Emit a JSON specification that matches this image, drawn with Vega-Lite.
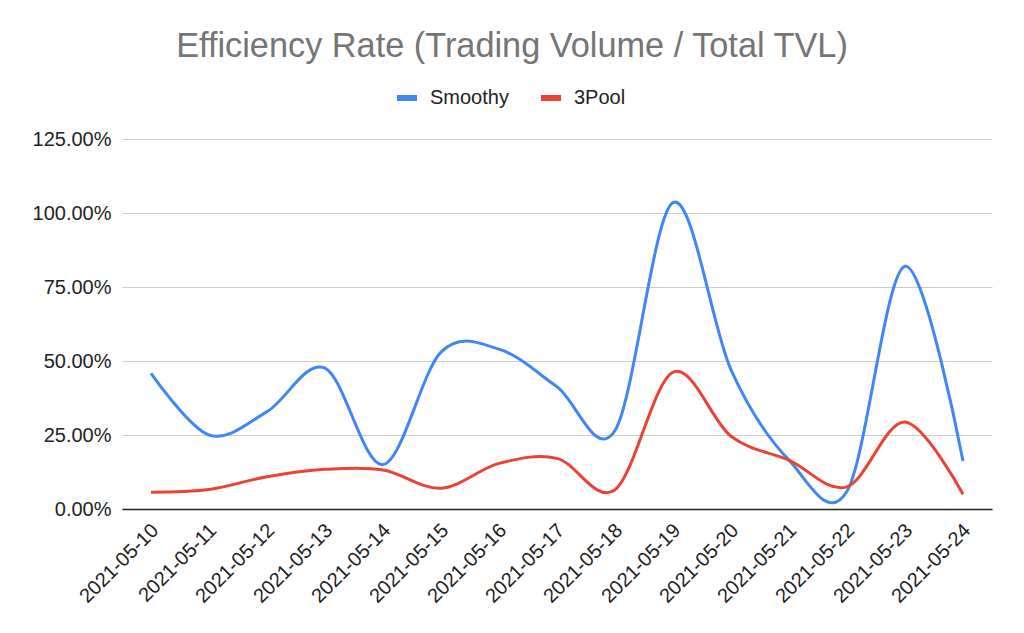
{
  "$schema": "https://vega.github.io/schema/vega-lite/v6.json",
  "width": 870,
  "height": 370,
  "autosize": {"type": "none"},
  "padding": {"left": 122, "top": 139, "right": 32, "bottom": 124},
  "background": "white",
  "title": {
    "text": "Efficiency Rate (Trading Volume / Total TVL)",
    "fontSize": 34.3,
    "font": "Liberation Sans",
    "fontWeight": "normal",
    "color": "#757575",
    "anchor": "middle",
    "frame": "group",
    "baseline": "alphabetic",
    "offset": -6,
    "dx": -45
  },
  "data": {
    "values": [
      {"date": "2021-05-10", "series": "Smoothy", "value": 0.458},
      {"date": "2021-05-11", "series": "Smoothy", "value": 0.25},
      {"date": "2021-05-12", "series": "Smoothy", "value": 0.329},
      {"date": "2021-05-13", "series": "Smoothy", "value": 0.476},
      {"date": "2021-05-14", "series": "Smoothy", "value": 0.15},
      {"date": "2021-05-15", "series": "Smoothy", "value": 0.53},
      {"date": "2021-05-16", "series": "Smoothy", "value": 0.54},
      {"date": "2021-05-17", "series": "Smoothy", "value": 0.413},
      {"date": "2021-05-18", "series": "Smoothy", "value": 0.265},
      {"date": "2021-05-19", "series": "Smoothy", "value": 1.035},
      {"date": "2021-05-20", "series": "Smoothy", "value": 0.47},
      {"date": "2021-05-21", "series": "Smoothy", "value": 0.165},
      {"date": "2021-05-22", "series": "Smoothy", "value": 0.06},
      {"date": "2021-05-23", "series": "Smoothy", "value": 0.82},
      {"date": "2021-05-24", "series": "Smoothy", "value": 0.162},
      {"date": "2021-05-10", "series": "3Pool", "value": 0.057},
      {"date": "2021-05-11", "series": "3Pool", "value": 0.066},
      {"date": "2021-05-12", "series": "3Pool", "value": 0.109},
      {"date": "2021-05-13", "series": "3Pool", "value": 0.134},
      {"date": "2021-05-14", "series": "3Pool", "value": 0.132},
      {"date": "2021-05-15", "series": "3Pool", "value": 0.07},
      {"date": "2021-05-16", "series": "3Pool", "value": 0.154},
      {"date": "2021-05-17", "series": "3Pool", "value": 0.171},
      {"date": "2021-05-18", "series": "3Pool", "value": 0.065},
      {"date": "2021-05-19", "series": "3Pool", "value": 0.462},
      {"date": "2021-05-20", "series": "3Pool", "value": 0.246},
      {"date": "2021-05-21", "series": "3Pool", "value": 0.165},
      {"date": "2021-05-22", "series": "3Pool", "value": 0.075},
      {"date": "2021-05-23", "series": "3Pool", "value": 0.294},
      {"date": "2021-05-24", "series": "3Pool", "value": 0.05}
    ]
  },
  "mark": {"type": "line", "interpolate": "cardinal", "strokeWidth": 3},
  "encoding": {
    "x": {
      "field": "date",
      "type": "ordinal",
      "scale": {"type": "point", "padding": 0.5},
      "axis": {
        "title": null,
        "labelAngle": -45,
        "labelAlign": "right",
        "labelBaseline": "middle",
        "labelFontSize": 20,
        "labelFont": "Liberation Sans",
        "labelColor": "#222222",
        "labelPadding": 18,
        "labelOffset": 4,
        "ticks": false,
        "domainColor": "#222222",
        "domainWidth": 1.5,
        "grid": false
      }
    },
    "y": {
      "field": "value",
      "type": "quantitative",
      "scale": {"domain": [0, 1.25]},
      "axis": {
        "title": null,
        "values": [0, 0.25, 0.5, 0.75, 1, 1.25],
        "format": ".2%",
        "labelFontSize": 20,
        "labelFont": "Liberation Sans",
        "labelColor": "#222222",
        "labelPadding": 11,
        "ticks": false,
        "domain": false,
        "gridColor": "#cccccc",
        "gridWidth": 1.2
      }
    },
    "color": {
      "field": "series",
      "type": "nominal",
      "scale": {"domain": ["Smoothy", "3Pool"], "range": ["#4285F4", "#EA4335"]},
      "legend": {
        "orient": "none",
        "legendX": 272,
        "legendY": -54,
        "direction": "horizontal",
        "title": null,
        "symbolType": "stroke",
        "symbolSize": 400,
        "symbolStrokeWidth": 6,
        "labelFontSize": 20,
        "labelFont": "Liberation Sans",
        "labelColor": "#222222",
        "labelOffset": 10,
        "columnPadding": 20,
        "padding": 0
      }
    }
  },
  "config": {"view": {"stroke": null}, "font": "Liberation Sans"}
}
